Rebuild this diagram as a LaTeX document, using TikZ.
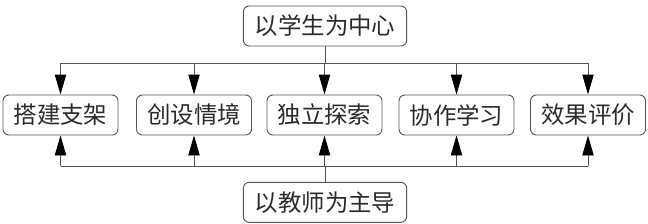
\documentclass[tikz,border=0pt]{standalone}
\usepackage{fontspec}
\newfontfamily\cjk{Noto Sans CJK SC}
\usetikzlibrary{arrows.meta}
\definecolor{lnclr}{HTML}{555555}
\definecolor{txclr}{HTML}{2A2A2A}

\begin{document}
\begin{tikzpicture}[
        every node/.style={font=\cjk\fontsize{20}{24}\selectfont, text=txclr},
        box/.style={
          draw=lnclr, line width=0.8pt,
          rounded corners=5pt, inner sep=0pt,
          minimum width=3.45cm, minimum height=1.2cm,
        },
        hub/.style={box, minimum width=4.9cm},
        ln/.style={draw=lnclr, line width=0.8pt},
        arr/.style={-{Triangle[length=6mm,width=3.4mm,color=black]}, draw=lnclr, line width=0.8pt},
      ]
      \useasboundingbox (0,0) rectangle (19.44,6.69);

      \node[hub] (stu) at (9.75, 5.91) {以学生为中心};
      \node[box] (s1)  at (1.815,3.24) {搭建支架};
      \node[box] (s2)  at (5.82, 3.24) {创设情境};
      \node[box] (s3)  at (9.735,3.24) {独立探索};
      \node[box] (s4)  at (13.695,3.24) {协作学习};
      \node[box] (s5)  at (17.64,3.24) {效果评价};
      \node[hub] (tea) at (9.75, 0.62) {以教师为主导};

      \coordinate (tbus) at (0,4.8);
      \coordinate (bbus) at (0,1.71);

      % top: student side
      \draw[ln] (stu.south) -- (stu.south |- tbus);
      \draw[ln] (s1.north |- tbus) -- (s5.north |- tbus);
      \foreach \s in {s1,s2,s3,s4,s5}
        \draw[arr] (\s.north |- tbus) -- (\s.north);

      % bottom: teacher side
      \draw[ln] (tea.north) -- (tea.north |- bbus);
      \draw[ln] (s1.south |- bbus) -- (s5.south |- bbus);
      \foreach \s in {s1,s2,s3,s4,s5}
        \draw[arr] (\s.south |- bbus) -- (\s.south);
    \end{tikzpicture}
\end{document}
